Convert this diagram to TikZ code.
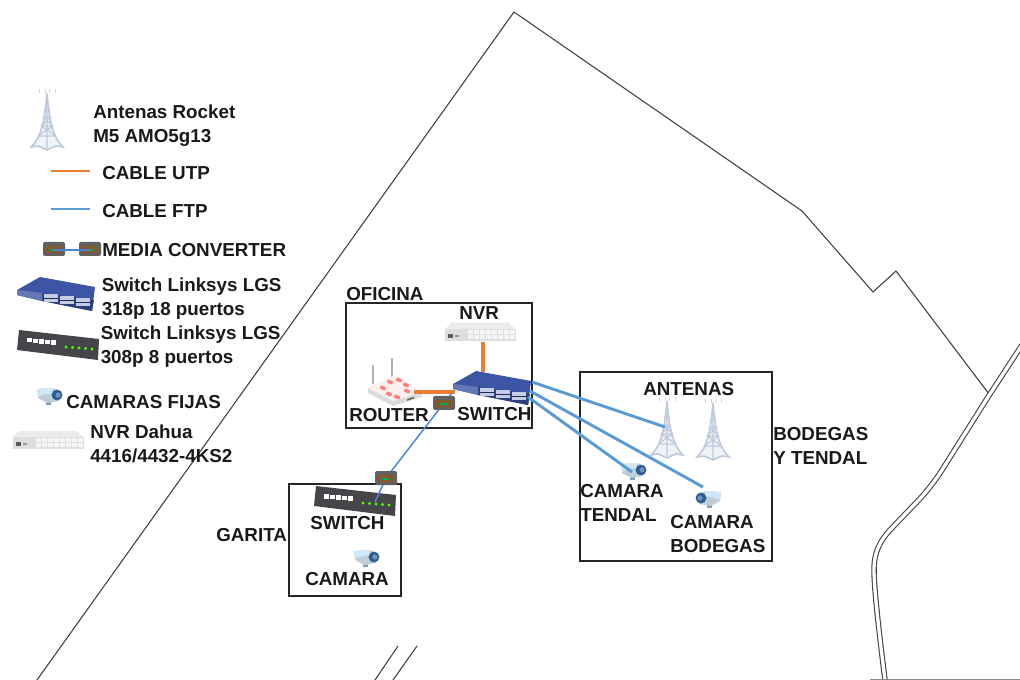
\documentclass[tikz,border=0pt]{standalone}
\usepackage{fontspec}
\setmainfont{Liberation Sans}
\definecolor{cableutp}{HTML}{ED7D31}
\definecolor{cableftp}{HTML}{5B9BD5}
\definecolor{towercol}{HTML}{BECADC}
\definecolor{swblue}{HTML}{3D55A5}
\definecolor{swdark}{HTML}{46464A}
\definecolor{cambody}{HTML}{BFCDD8}
\definecolor{camlight}{HTML}{CFE8F8}
\definecolor{camlens}{HTML}{2C5C92}
\tikzset{
  lbl/.style={inner sep=0pt, anchor=west, align=left, font=\fontsize{14.1}{18}\selectfont\bfseries, text=black!90},
  room/.style={draw=black!85, line width=0.8pt},
  plan/.style={draw=black!75, line width=0.8pt, line join=round},
  utp/.style={draw=cableutp, line width=2.6pt},
  ftp/.style={draw=cableftp, line width=2.2pt},
  ftpthin/.style={draw=cableftp!85!blue, line width=1.1pt},
  pics/tower/.style={code={
    \draw[towercol, line width=1.2pt, fill=towercol!25] (0,0) .. controls (-2,24) and (-5,44) .. (-16,54) -- (-9,53) -- (0,57) -- (9,53) -- (16,54) .. controls (5,44) and (2,24) .. (0,0) -- cycle;
    \draw[towercol, line width=0.9pt] (-3,16) -- (3,16) (-4,24) -- (4,24) (-6,33) -- (6,33) (-9,43) -- (9,43) (-4,24) -- (6,33) (4,24) -- (-6,33) (-6,33) -- (9,43) (6,33) -- (-9,43) (0,0) -- (0,57);
    \draw[towercol!80, line width=0.5pt] (-8,-4) -- (-8,0) (8,-4) -- (8,0) (-2,-4) -- (-2,0) (2,-4) -- (2,0);
  }},
  pics/swbig/.style={code={
    \fill[swblue] (-39,-4) -- (-16,-17) -- (39,-7) -- (36,17) -- (-14,7) -- (-39,1) -- cycle;
    \fill[swblue!75!black] (-14,-1) -- (38,6) -- (36,17) -- (-14,7) -- cycle;
    \fill[swblue!80!white] (-39,-4) -- (-14,-1) -- (-14,7) -- (-39,1) -- cycle;
    \foreach \i in {0,...,2} {
      \fill[white!70!swblue] (-12+16*\i,0.5+2*\i) rectangle ++(14,8);
      \draw[swblue!50!black, line width=0.6pt] (-12+16*\i,4.5+2*\i) -- ++(14,0);
    }
  }},
  pics/swsmall/.style={code={
    \fill[swdark] (-39,-15) -- (41,-6) -- (40,15) -- (-41,5) -- cycle;
    \foreach \i in {0,...,4}
      \fill[white] (-31+6*\i,-7+0.6*\i) rectangle ++(4.5,4.5);
    \foreach \i in {0,...,4}
      \fill[green!70!yellow] (8+6.5*\i,2+0.5*\i) circle (1.6);
  }},
  pics/cam/.style={code={
    \fill[camlens!60] (-4,5) rectangle (1,9);
    \fill[cambody] (-13,-7) -- (3,-8) -- (9,-5) -- (9,5) -- (-3,7) -- (-12,2) -- cycle;
    \fill[camlight] (-13,-7) -- (3,-8) -- (3,-3) -- (-8,-1) -- (-12,1) -- cycle;
    \fill[camlens] (7,-1) circle (5.4);
    \fill[camlight!40!camlens] (8,-1) circle (2.6);
  }},
  pics/nvrbox/.style={code={
    \fill[black!8] (-35,-3) -- (-29,-9) -- (29,-9) -- (35,-3) -- cycle;
    \fill[black!13] (-35,-3) rectangle (36,9);
    \foreach \i in {0,...,7}
      \fill[black!4] (-12+6*\i,-2) rectangle ++(5,4) (-12+6*\i,3) rectangle ++(5,4);
    \fill[black!65] (-32,2) rectangle ++(5,4);
    \fill[black!40] (-25,3) rectangle ++(4,2);
  }},
  pics/mediaconv/.style={code={
    \fill[black!62, rounded corners=1.5pt] (-11,-7) rectangle (11,7);
    \fill[brown!70!black] (-8,-3) rectangle (8,4);
    \fill[teal!70!green] (-4,0) rectangle (4,2);
  }},
  pics/routerbox/.style={code={
    \draw[black!30, line width=1.4pt] (-22,-25) -- (-22,-6) (-3,-32) -- (-3,-12);
    \fill[black!14] (-27,-2) -- (0,-15) -- (27,2) -- (27,7) -- (-2,16) -- (-27,3) -- cycle;
    \fill[red!6!white] (-27,-2) -- (0,-15) -- (27,2) -- (-2,11) -- cycle;
    \foreach \px/\py in {-12/-2,-5/-8,4/-10,11/-5,-6/4,2/7,12/1}
      \fill[red!50!white, rounded corners=0.8pt, rotate around={-25:(\px,\py)}] (\px-3,\py-1.8) rectangle (\px+3,\py+1.8);
    \fill[black!55] (12,9) -- (19,6.5) -- (19,8.5) -- (12,11) -- cycle;
  }}
}
\begin{document}
\begin{tikzpicture}[x=0.75pt, y=-0.75pt]
\useasboundingbox (0,0) rectangle (1020,680);
% plano
\draw[plan] (37,680) -- (514,12) -- (802,211) -- (873,292) -- (896,271) -- (989,394);
\draw[plan] (375,680) -- (398,646);
\draw[plan] (393,680) -- (417,646);
\draw[black!75, line width=0.8pt, double=white, double distance=2.5pt] (1022,345) -- (988,397) -- (942,470) .. controls (933,484) and (924,495) .. (912,507) -- (890,530) .. controls (880,541) and (874,552) .. (874,570) .. controls (874,590) and (880,640) .. (885,680);
\draw[black!45, line width=0.7pt] (870,679.5) -- (1020,679.5);
% cuartos
\draw[room] (346,303) rectangle (532,428);
\draw[room] (289,484) rectangle (401,596);
\draw[room] (580,372) rectangle (772,561);
% leyenda
\pic at (47,93) {tower};
\node[lbl] (lblAntenas) at (93,126) {Antenas Rocket\\M5 AMO5g13};
\coordinate (utpA) at (51,171);
\coordinate (utpB) at (90,171);
\draw[draw=cableutp, line width=2pt] (utpA) -- (utpB);
\node[lbl] (lblUtp) at (102,173) {CABLE UTP};
\coordinate (ftpA) at (51,209);
\coordinate (ftpB) at (90,209);
\draw[draw=cableftp, line width=2pt] (ftpA) -- (ftpB);
\node[lbl] (lblFtp) at (102,211) {CABLE FTP};
\pic at (54,249) {mediaconv};
\pic at (90,249) {mediaconv};
\coordinate (mcA) at (54,250);
\coordinate (mcB) at (90,250);
\draw[ftpthin] (mcA) -- (mcB);
\node[lbl] (lblMedia) at (102,250) {MEDIA CONVERTER};
\pic at (56,294) {swbig};
\node[lbl] (lblSwBig) at (101.5,299) {Switch Linksys LGS\\318p 18 puertos};
\pic at (58,345) {swsmall};
\node[lbl] (lblSwSmall) at (100.5,347) {Switch Linksys LGS\\308p 8 puertos};
\pic at (50,396) {cam};
\node[lbl] (lblCam) at (66,402) {CAMARAS FIJAS};
\pic at (48,440) {nvrbox};
\node[lbl] (lblNvr) at (90,444) {NVR Dahua\\4416/4432-4KS2};
% oficina
\node[lbl] (lblOficina) at (346,294) {OFICINA};
\pic at (480,332) {nvrbox};
\node[lbl] (lblNvrOf) at (459,313) {NVR};
\pic at (395,390) {routerbox};
\coordinate (nvrOf) at (483,342);
\coordinate (swTop) at (483,372);
\coordinate (rtOf) at (414,392);
\coordinate (swLeft) at (455,392);
\draw[utp] (nvrOf) -- (swTop);
\draw[utp] (rtOf) -- (swLeft);
\pic at (492,388) {swbig};
\node[lbl] (lblRouter) at (349,415) {ROUTER};
\node[lbl] (lblSwOf) at (457,414) {SWITCH};
% bodegas
\pic at (667,401) {tower};
\pic at (713,403) {tower};
\pic at (634,471) {cam};
\pic[xscale=-1] at (708,499) {cam};
\coordinate (swFtpA) at (532,382);
\coordinate (swFtpB) at (530,391);
\coordinate (swFtpC) at (528,397);
\coordinate (antena) at (665,427);
\coordinate (camBod) at (703,487);
\coordinate (camTen) at (632,472);
\draw[ftp] (swFtpA) -- (antena);
\draw[ftp] (swFtpB) -- (camBod);
\draw[ftp] (swFtpC) -- (camTen);
\node[lbl] (lblAntenasB) at (643,389) {ANTENAS};
\node[lbl] (lblCamTen) at (580,503) {CAMARA\\TENDAL};
\node[lbl] (lblCamBod) at (670,534) {CAMARA\\BODEGAS};
\node[lbl] (lblBodegas) at (773,446) {BODEGAS\\Y TENDAL};
% garita
\pic at (355,501) {swsmall};
\pic at (367,558) {cam};
\coordinate (swRoute) at (452,393);
\coordinate (mcOf) at (444,403);
\coordinate (mcGar) at (386,478);
\coordinate (swGar) at (375,502);
\draw[ftpthin] (swRoute) -- (mcOf);
\draw[ftpthin] (mcOf) -- (mcGar);
\draw[ftpthin] (mcGar) -- (swGar);
\pic at (444,403) {mediaconv};
\pic at (386,478) {mediaconv};
\node[lbl] (lblGarita) at (216,535) {GARITA};
\node[lbl] (lblSwGar) at (310,523) {SWITCH};
\node[lbl] (lblCamGar) at (305,579) {CAMARA};
\end{tikzpicture}
\end{document}
